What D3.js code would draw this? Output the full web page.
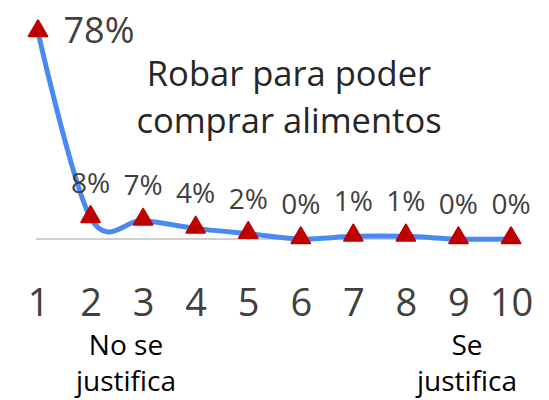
<!DOCTYPE html>
<html>
<head>
<meta charset="utf-8">
<script src="https://cdn.jsdelivr.net/npm/d3@7"></script>
<style>
  body { margin: 0; background: #fff; }
  svg { font-family: "Open Sans", "Noto Sans", sans-serif; }
</style>
</head>
<body>
<svg id="chart" width="549" height="400"></svg>
<script>
// scale 1..10, share of answers (%)
const categories = [1, 2, 3, 4, 5, 6, 7, 8, 9, 10];
const values = [78, 8, 7, 4, 2, 0, 1, 1, 0, 0];
const titleLines = ['Robar para poder', 'comprar alimentos'];
const leftNote = ['No se', 'justifica'];
const rightNote = ['Se', 'justifica'];

const svg = d3.select('#chart');

const x = d3.scalePoint().domain(categories).range([38, 511]);
const y = d3.scaleLinear().domain([0, 78]).range([239, 32]);

// baseline
svg.append('line')
  .attr('x1', 36).attr('x2', 520)
  .attr('y1', y(0)).attr('y2', y(0))
  .attr('stroke', '#bfbfbf').attr('stroke-width', 1.5);

// x tick labels
const xAxis = svg.append('g')
  .attr('transform', `translate(0,${y(0)})`)
  .call(d3.axisBottom(x).tickSize(0));
xAxis.select('.domain').remove();
xAxis.selectAll('text')
  .attr('y', 77)
  .attr('dy', 0)
  .attr('font-family', '"Open Sans", sans-serif')
  .attr('font-size', 38)
  .attr('fill', '#404040');

// smoothed line
const line = d3.line()
  .x((d, i) => x(categories[i]))
  .y(d => y(d))
  .curve(d3.curveCatmullRom.alpha(0));

svg.append('path')
  .datum(values)
  .attr('d', line)
  .attr('fill', 'none')
  .attr('stroke', '#4a8af0')
  .attr('stroke-width', 5)
  .attr('stroke-linejoin', 'round');

// triangle markers
const tri = d3.symbol().type(d3.symbolTriangle).size(150);
svg.selectAll('.marker')
  .data(values)
  .enter().append('path')
  .attr('class', 'marker')
  .attr('d', tri)
  .attr('transform', (d, i) => `translate(${x(categories[i])},${y(d) - 1})`)
  .attr('fill', '#c00000')
  .attr('stroke', '#c00000')
  .attr('stroke-width', 2)
  .attr('stroke-linejoin', 'round');

// value labels
svg.selectAll('.lbl')
  .data(values)
  .enter().append('text')
  .attr('class', 'lbl')
  .attr('x', (d, i) => i === 0 ? x(categories[i]) + 61 : x(categories[i]))
  .attr('y', (d, i) => i === 0 ? 43 : y(d) - 25)
  .attr('text-anchor', 'middle')
  .attr('font-size', (d, i) => i === 0 ? 36 : 28)
  .attr('fill', '#404040')
  .text(d => d + '%');

// title
svg.append('text')
  .attr('x', 289).attr('y', 86)
  .attr('text-anchor', 'middle')
  .attr('font-size', 34.5)
  .attr('fill', '#262626')
  .selectAll('tspan')
  .data(titleLines)
  .enter().append('tspan')
  .attr('x', 289)
  .attr('dy', (d, i) => i === 0 ? 0 : 47)
  .text(d => d);

// end notes
function note(lines, cx) {
  svg.append('text')
    .attr('y', 355)
    .attr('text-anchor', 'middle')
    .attr('font-size', 28)
    .attr('fill', '#000')
    .selectAll('tspan')
    .data(lines)
    .enter().append('tspan')
    .attr('x', cx)
    .attr('dy', (d, i) => i === 0 ? 0 : 36)
    .text(d => d);
}
note(leftNote, 126);
note(rightNote, 467);
</script>
</body>
</html>
